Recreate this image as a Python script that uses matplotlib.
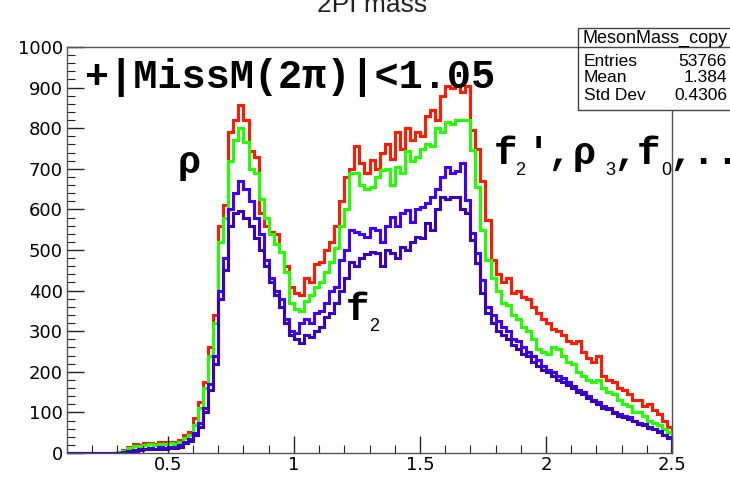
import numpy as np
import matplotlib
matplotlib.use('Agg')
import matplotlib.pyplot as plt
from matplotlib.patches import Rectangle
from matplotlib.lines import Line2D

# histogram binning (0.02 wide bins from 0.1 to 2.5)
edges = np.linspace(0.1, 2.5, 121)

red = [0, 0, 0, 0, 0, 0, 0, 0, 0, 1,
       3, 8, 15, 22, 20, 24, 25, 22, 27, 26,
       28, 27, 33, 45, 52, 85, 125, 175, 260, 340,
       560, 610, 790, 820, 857, 820, 745, 730, 590, 560,
       545, 540, 495, 460, 410, 395, 390, 430, 420, 465,
       470, 500, 520, 560, 620, 680, 700, 755, 715, 690,
       722, 700, 740, 760, 725, 790, 750, 800, 770, 790,
       780, 830, 845, 820, 880, 905, 900, 905, 890, 905,
       795, 750, 670, 575, 475, 440, 420, 430, 395, 400,
       385, 380, 360, 345, 330, 320, 305, 300, 290, 275,
       270, 275, 250, 235, 225, 240, 190, 180, 175, 160,
       155, 145, 130, 130, 115, 120, 105, 95, 80, 65]

green = [0, 0, 0, 0, 0, 0, 0, 0, 0, 0,
         2, 6, 12, 18, 17, 20, 21, 19, 22, 22,
         24, 23, 28, 38, 45, 70, 110, 160, 240, 320,
         520, 580, 720, 770, 800, 765, 700, 690, 625, 580,
         540, 515, 495, 445, 370, 355, 350, 375, 390, 410,
         420, 445, 470, 505, 560, 600, 690, 690, 660, 650,
         655, 680, 697, 700, 660, 705, 690, 745, 720, 730,
         750, 760, 755, 800, 790, 815, 810, 820, 820, 820,
         746, 655, 550, 475, 430, 400, 370, 365, 340, 330,
         310, 300, 280, 255, 250, 245, 260, 255, 240, 225,
         220, 200, 190, 180, 175, 180, 160, 150, 145, 130,
         120, 115, 100, 100, 90, 80, 75, 70, 60, 52]

blue = [0, 0, 0, 0, 0, 0, 0, 0, 0, 0,
        0, 2, 5, 8, 9, 10, 12, 11, 14, 13,
        15, 16, 20, 28, 35, 50, 75, 110, 170, 240,
        400, 480, 600, 640, 670, 650, 620, 580, 540, 475,
        430, 400, 380, 330, 300, 295, 320, 330, 320, 345,
        350, 370, 400, 410, 475, 500, 550, 545, 540, 532,
        555, 549, 520, 560, 581, 560, 590, 598, 570, 600,
        605, 616, 630, 650, 680, 704, 690, 695, 714, 623,
        542, 493, 426, 360, 340, 325, 310, 300, 280, 275,
        260, 250, 240, 230, 215, 205, 200, 190, 185, 175,
        165, 155, 150, 140, 130, 125, 115, 110, 100, 95,
        90, 88, 80, 75, 72, 65, 60, 55, 45, 40]

darkblue = [0, 0, 0, 0, 0, 0, 0, 0, 0, 0,
            0, 1, 4, 6, 8, 9, 10, 9, 11, 10,
            12, 13, 16, 24, 30, 45, 65, 100, 155, 220,
            380, 450, 560, 590, 595, 580, 560, 530, 500, 460,
            420, 390, 360, 320, 290, 280, 270, 290, 285, 300,
            310, 335, 345, 370, 400, 430, 470, 460, 480, 490,
            495, 493, 460, 500, 493, 480, 507, 500, 520, 532,
            530, 566, 550, 600, 630, 625, 630, 630, 600, 591,
            524, 468, 394, 345, 320, 300, 290, 280, 265, 255,
            245, 240, 225, 215, 205, 200, 190, 180, 175, 168,
            160, 150, 145, 135, 128, 120, 112, 108, 98, 92,
            88, 84, 78, 72, 70, 62, 58, 52, 44, 38]

hist_colors = ['#ff1a00', '#22ff00', '#3f00ff', '#3a00c0']

xticks = [0.5, 1, 1.5, 2, 2.5]
xticklabels = ['0.5', '1', '1.5', '2', '2.5']
yticks = list(range(0, 1001, 100))

stat_names = ['Entries', 'Mean', 'Std Dev']
stat_values = ['53766', '1.384', '0.4306']

W, H = 730, 478
fig = plt.figure(figsize=(W / 100, H / 100), dpi=100)
ax = fig.add_axes([67 / W, 1 - 453 / H, (672 - 67) / W, (453 - 47) / H])

for vals, col in zip([red, green, blue, darkblue], hist_colors):
    ax.stairs(vals, edges, color=col, lw=2.2, baseline=0)

ax.set_xlim(0.1, 2.5)
ax.set_ylim(0, 1000)
ax.set_xticks(xticks)
ax.set_xticklabels(xticklabels)
ax.set_xticks(np.arange(0.1, 2.51, 0.1), minor=True)
ax.set_yticks(yticks)
ax.set_yticks(np.arange(0, 1001, 20), minor=True)
ax.tick_params(which='both', direction='in', top=False, right=False,
               labelsize=13, color='#222222')
ax.tick_params(which='major', length=12, width=1.0)
ax.tick_params(which='minor', length=6, width=0.8)
ax.tick_params(axis='x', pad=2)
ax.tick_params(axis='y', pad=3)
for s in ax.spines.values():
    s.set_color('#555555')
    s.set_linewidth(1.0)

# title, clipped at the top edge as in the ROOT canvas
fig.text(372 / W, 1 - 12 / H, '2PI mass', ha='center', va='baseline',
         fontsize=19, color='#222222', family='Liberation Sans')

mono = ['Liberation Mono', 'DejaVu Sans Mono']


def label(pieces, base_px):
    # pieces: (text, left x in px, is_subscript)
    for txt, xp, sub in pieces:
        if sub:
            fig.text(xp / W, 1 - (base_px + 11) / H, txt, fontsize=13,
                     family='Liberation Sans', va='baseline', ha='left')
        else:
            fig.text(xp / W, 1 - base_px / H, txt, fontsize=28,
                     fontweight='bold', family=mono, va='baseline', ha='left')


ax.text(0.17, 925, '+|MissM(2π)|<1.05', fontsize=29, fontweight='bold',
        family=mono, va='center', ha='left')
ax.text(0.54, 715, 'ρ', fontsize=28, fontweight='bold', family=mono,
        va='center', ha='left')
label([('f', 494, False), ('2', 515, True), ('′', 527, False),
       (',', 547, False), ('ρ', 573, False), ('3', 605, True),
       (',', 613, False), ('f', 637, False), ('0', 661, True),
       (',', 669, False), ('.', 691, False), ('.', 715, False)], 164)
label([('f', 346, False), ('2', 369, True)], 320)

# stats box
bx0, by0, by1 = 578, 28, 110
box = Rectangle((bx0 / W, 1 - by1 / H), (W + 10 - bx0) / W, (by1 - by0) / H,
                transform=fig.transFigure, facecolor='white',
                edgecolor='#444444', lw=1.0, zorder=10)
fig.add_artist(box)
fig.add_artist(Line2D([bx0 / W, 1], [1 - 47 / H, 1 - 47 / H],
                      transform=fig.transFigure, color='#444444', lw=1.0, zorder=11))
fig.text((bx0 + 5) / W, 1 - 38 / H, 'MesonMass_copy', fontsize=13,
         va='center', ha='left', zorder=12, family='Liberation Sans')
for k, (nm, vv) in enumerate(zip(stat_names, stat_values)):
    yy = 1 - (61 + 17 * k) / H
    fig.text((bx0 + 6) / W, yy, nm, fontsize=12.5, va='center', ha='left',
             zorder=12, family='Liberation Sans')
    fig.text(727 / W, yy, vv, fontsize=12.5, va='center', ha='right',
             zorder=12, family='Liberation Sans')

fig.savefig('out.png', dpi=100)
